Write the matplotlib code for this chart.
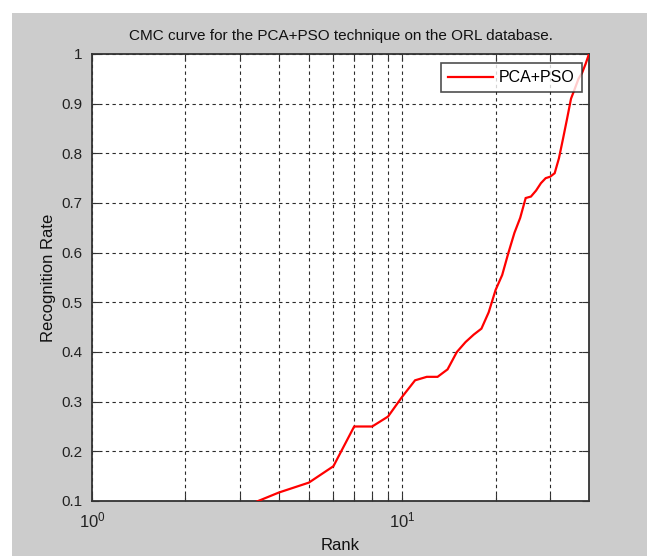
import matplotlib
matplotlib.use("Agg")
import matplotlib.pyplot as plt
from matplotlib.patches import Rectangle
from matplotlib.ticker import FixedLocator, NullFormatter

plt.rcParams['font.family'] = ['Liberation Sans', 'DejaVu Sans']
plt.rcParams['mathtext.fontset'] = 'custom'
plt.rcParams['mathtext.rm'] = 'Liberation Sans'
plt.rcParams['mathtext.it'] = 'Liberation Sans'
plt.rcParams['mathtext.bf'] = 'Liberation Sans'

# Cumulative match characteristic: recognition rate at each rank
ranks = list(range(1, 41))
recognition_rate = [
    0.030, 0.060, 0.085, 0.117, 0.137, 0.170, 0.250, 0.250, 0.270, 0.310,
    0.343, 0.350, 0.350, 0.365, 0.400, 0.420, 0.435, 0.447, 0.480, 0.525,
    0.555, 0.600, 0.640, 0.670, 0.710, 0.713, 0.725, 0.740, 0.750, 0.753,
    0.760, 0.790, 0.830, 0.870, 0.910, 0.930, 0.950, 0.962, 0.980, 1.000,
]
y_ticks = [0.1, 0.2, 0.3, 0.4, 0.5, 0.6, 0.7, 0.8, 0.9, 1.0]
y_tick_labels = ['0.1', '0.2', '0.3', '0.4', '0.5', '0.6', '0.7', '0.8', '0.9', '1']

W, H = 647, 556
fig = plt.figure(figsize=(W / 100, H / 100), dpi=100, facecolor='white')
# grey figure panel behind the axes
fig.patches.append(Rectangle((12 / W, 0), 1 - 12 / W, 1 - 13 / H,
                             transform=fig.transFigure, facecolor='#cccccc',
                             edgecolor='none', zorder=-10))

ax = fig.add_axes([92 / W, 1 - 501 / H, (589 - 92) / W, (501 - 54) / H])
ax.set_facecolor('white')

ax.plot(ranks, recognition_rate, color='#ff0000', linewidth=1.6, label='PCA+PSO',
        solid_joinstyle='miter', zorder=3)

ax.set_xscale('log')
ax.set_xlim(1, 40)
ax.set_ylim(0.1, 1.0)
ax.xaxis.set_major_locator(FixedLocator([1, 10]))
ax.xaxis.set_minor_locator(FixedLocator([2, 3, 4, 5, 6, 7, 8, 9, 20, 30]))
ax.xaxis.set_minor_formatter(NullFormatter())
ax.set_xticklabels([r'$10^0$', r'$10^1$'])
ax.set_yticks(y_ticks)
ax.set_yticklabels(y_tick_labels)

ax.grid(True, which='both', axis='x', color='#2a2a2a', linestyle=(0, (3, 3)), linewidth=0.8)
ax.grid(True, which='major', axis='y', color='#2a2a2a', linestyle=(0, (3, 3)), linewidth=0.8)

ax.tick_params(axis='both', which='both', direction='in', length=5, width=0.8,
               colors='#333333', labelcolor='#222222', labelsize=11,
               top=True, right=True)
ax.tick_params(axis='y', which='major', pad=7)
ax.tick_params(axis='x', which='major', pad=7, labelsize=12)
for s in ax.spines.values():
    s.set_color('#333333')
    s.set_linewidth(1.3)

ax.set_title('CMC curve for the PCA+PSO technique on the ORL database.',
             fontsize=11, color='#111111', pad=10)
ax.set_xlabel('Rank', fontsize=12, color='#111111', labelpad=5)
ax.set_ylabel('Recognition Rate', fontsize=12, color='#111111', labelpad=4)

leg = ax.legend(loc='upper right', frameon=True, fancybox=False,
                prop={'size': 11.5},
                borderpad=0.45, handlelength=2.8, handletextpad=0.4,
                borderaxespad=0.0,
                bbox_to_anchor=((582 - 92) / 497, (501 - 63) / 447))
leg.get_frame().set_edgecolor('#222222')
leg.get_frame().set_linewidth(1.2)

fig.savefig('out.png', dpi=100, facecolor=fig.get_facecolor())
